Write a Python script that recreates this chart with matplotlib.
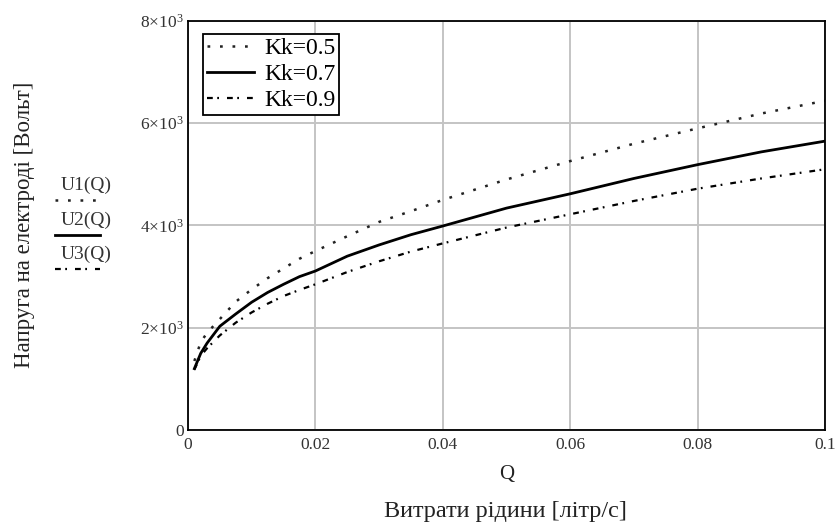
import numpy as np
import matplotlib
matplotlib.use("Agg")
import matplotlib.pyplot as plt
from matplotlib.lines import Line2D
from matplotlib.ticker import FixedLocator, FixedFormatter

# values (Q in litre/s, U in volts)
Q = [0.001, 0.002, 0.003, 0.005, 0.0075, 0.01, 0.0125, 0.015, 0.0175, 0.02,
     0.025, 0.03, 0.035, 0.04, 0.05, 0.06, 0.07, 0.08, 0.09, 0.1]
U1 = [1350, 1720, 1900, 2170, 2510, 2750, 2970, 3160, 3350, 3500,
      3790, 4070, 4280, 4500, 4900, 5260, 5600, 5900, 6190, 6440]
U2 = [1200, 1500, 1700, 2030, 2270, 2500, 2690, 2850, 3000, 3110,
      3400, 3620, 3820, 3990, 4340, 4620, 4920, 5190, 5440, 5650]
U3 = [1180, 1450, 1600, 1850, 2100, 2300, 2470, 2620, 2740, 2850,
      3090, 3300, 3490, 3650, 3960, 4220, 4480, 4720, 4920, 5100]

series_labels = ["Kk=0.5", "Kk=0.7", "Kk=0.9"]
side_labels = ["U1(Q)", "U2(Q)", "U3(Q)"]

x_ticks = [0, 0.02, 0.04, 0.06, 0.08, 0.1]
x_ticklabels = ["0", "0.02", "0.04", "0.06", "0.08", "0.1"]
y_ticks = [0, 2000, 4000, 6000, 8000]
y_ticklabels = ["0", r"$\mathregular{2{\times}10^{3}}$", r"$\mathregular{4{\times}10^{3}}$",
                r"$\mathregular{6{\times}10^{3}}$", r"$\mathregular{8{\times}10^{3}}$"]

plt.rcParams['font.family'] = ['Liberation Serif', 'DejaVu Serif']

W, H = 839, 523
fig = plt.figure(figsize=(W / 100, H / 100), dpi=100)
ax = fig.add_axes([188 / W, 1 - 430 / H, (825 - 188) / W, (430 - 21) / H])

dot_style = dict(color="#222222", lw=1.8, dashes=(1.1, 3.9), dash_capstyle="butt")
solid_style = dict(color="black", lw=2.0)
dashdot_style = dict(color="black", lw=1.6, dashes=(2.6, 2.0, 0.8, 3.6))

ax.plot(Q, U1, label=series_labels[0], **dot_style)
ax.plot(Q, U2, label=series_labels[1], **solid_style)
ax.plot(Q, U3, label=series_labels[2], **dashdot_style)

ax.set_xlim(0, 0.1)
ax.set_ylim(0, 8000)
ax.xaxis.set_major_locator(FixedLocator(x_ticks))
ax.xaxis.set_major_formatter(FixedFormatter(x_ticklabels))
ax.yaxis.set_major_locator(FixedLocator(y_ticks))
ax.yaxis.set_major_formatter(FixedFormatter(y_ticklabels))
ax.tick_params(axis="both", length=0, colors="#333333")
ax.tick_params(axis="x", labelsize=12.5, pad=5)
ax.tick_params(axis="y", labelsize=12.5, pad=3)
ax.grid(True, color="#c4c4c4", lw=1.4)
ax.set_axisbelow(True)
for sp in ax.spines.values():
    sp.set_color("black")
    sp.set_linewidth(1.3)

ax.set_xlabel("Q", fontsize=15, labelpad=9, color="#222222")

leg = ax.legend(loc="upper left", bbox_to_anchor=(0.0235, 0.968), borderaxespad=0,
                fancybox=False, framealpha=1, edgecolor="black", fontsize=17,
                handlelength=2.0, handletextpad=0.45, labelspacing=0.22,
                borderpad=0.15, handleheight=0.6)
leg.get_frame().set_linewidth(1.3)

# text labels at the left, as in the source layout
fig.text(25 / W, 1 - 225 / H, "Напруга на електроді [Вольт]", rotation=90,
         ha="center", va="center", fontsize=16.5, color="#222222")
fig.text(505 / W, 1 - 511 / H, "Витрати рідини [літр/с]", ha="center",
         va="center", fontsize=17.5, color="#222222")

side_y = [185, 220, 254]
styles = [dot_style, solid_style, dashdot_style]
for lab, yy, st in zip(side_labels, side_y, styles):
    fig.text(86 / W, 1 - yy / H, lab, ha="center", va="center", fontsize=14,
             color="#333333")
    fig.add_artist(Line2D([55 / W, 100 / W], [1 - (yy + 15) / H, 1 - (yy + 15) / H],
                          transform=fig.transFigure, **st))

fig.savefig("out.png", dpi=100)
